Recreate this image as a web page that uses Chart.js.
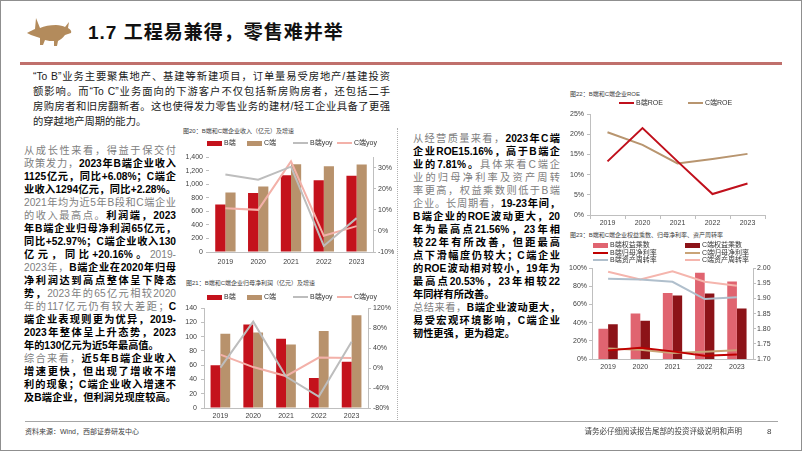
<!DOCTYPE html>
<html>
<head>
<meta charset="utf-8">
<title>工程易兼得，零售难并举</title>
<script src="https://cdn.jsdelivr.net/npm/chart.js@4.4.1/dist/chart.umd.min.js"></script>
<style>
  body { margin: 0; background: #fff; }
  #page { position: relative; width: 802px; height: 451px; overflow: hidden; background: #fff;
          font-family: "Liberation Sans", "Noto Sans CJK SC", sans-serif; }
  #frame { position: absolute; left: 0; top: 0; width: 802px; height: 451px; box-sizing: border-box;
           border: 1px solid #8f8f8f; pointer-events: none; }
  .abs { position: absolute; }
  canvas { position: absolute; }
  .title { left: 88px; top: 20px; font-size: 19px; font-weight: bold; letter-spacing: 1px; color: #111;
           line-height: 26px; white-space: nowrap; }
  .rule { left: 20px; top: 62px; width: 762px; height: 3px; background: #c0706c; }
  .para { left: 33px; top: 68.5px; width: 357px; font-size: 10.3px; line-height: 15px; color: #1a1a1a; }
  .colL { left: 24px; top: 143.5px; width: 152px; font-size: 10.2px; line-height: 13.05px; }
  .colM { left: 413px; top: 131.5px; width: 147px; font-size: 10.2px; line-height: 13px; }
  .ln { text-align: justify; text-align-last: justify; }
  .ln.end { text-align-last: left; }
  .g { color: #808080; }
  .b { color: #000; font-weight: bold; }
  .cap { font-size: 6px; color: #404040; white-space: nowrap; line-height: 8px; }
  .lg { font-size: 7px; color: #333; white-space: nowrap; line-height: 8px; }
  .sep { left: 397px; top: 128px; height: 292px; border-left: 1px dotted #b0b0b0; }
  .foot { left: 25px; top: 421px; width: 753px; height: 1px; background: #a6a6a6; }
  .ft { font-size: 7px; color: #404040; white-space: nowrap; line-height: 10px; }
</style>
</head>
<body>
<div id="page">
  <svg class="abs" style="left:0;top:0" width="80" height="60">
    <path fill="#b38b5c" d="M27,33 C30,31 33,30 35,29 L36,18 L40,28 C44,26 50,25 56,25 C60,25 63,26 65,27 L69,22 L68,28 C70,29 72,31 71,33 C69,34 67,34 65,35 C63,38 60,40 58,41 L57,46 L54,46 L54,41 C51,41 48,41 45,40 L43,45 L40,45 L40,38 C37,37 34,36 31,35 Z"/>
  </svg>
  <div class="abs title">1.7 工程易兼得，零售难并举</div>
  <div class="abs rule"></div>

  <div class="abs para">
    <div class="ln">“To B”业务主要聚焦地产、基建等新建项目，订单量易受房地产/基建投资</div>
    <div class="ln">额影响。而“To C”业务面向的下游客户不仅包括新房购房者，还包括二手</div>
    <div class="ln">房购房者和旧房翻新者。这也使得发力零售业务的建材/轻工企业具备了更强</div>
    <div class="ln end">的穿越地产周期的能力。</div>
  </div>

  <div class="abs colL">
    <div class="ln"><span class="g">从成长性来看，得益于保交付</span></div>
    <div class="ln"><span class="g">政策发力，</span><span class="b">2023年B端企业收入</span></div>
    <div class="ln"><span class="b">1125亿元，同比+6.08%；C端企</span></div>
    <div class="ln"><span class="b">业收入1294亿元，同比+2.28%。</span></div>
    <div class="ln"><span class="g">2021年均为近5年B段和C端企业</span></div>
    <div class="ln"><span class="g">的收入最高点。</span><span class="b">利润端，2023</span></div>
    <div class="ln"><span class="b">年B端企业归母净利润65亿元，</span></div>
    <div class="ln"><span class="b">同比+52.97%；C端企业收入130</span></div>
    <div class="ln"><span class="b">亿元，同比+20.16%。</span><span class="g">2019-</span></div>
    <div class="ln"><span class="g">2023年，</span><span class="b">B端企业在2020年归母</span></div>
    <div class="ln"><span class="b">净利润达到高点整体呈下降态</span></div>
    <div class="ln"><span class="b">势，</span><span class="g">2023年的65亿元相较2020</span></div>
    <div class="ln"><span class="g">年的117亿元仍有较大差距；</span><span class="b">C</span></div>
    <div class="ln"><span class="b">端企业表现则更为优异，2019-</span></div>
    <div class="ln"><span class="b">2023年整体呈上升态势，2023</span></div>
    <div class="ln end"><span class="b">年的130亿元为近5年最高值。</span></div>
    <div class="ln"><span class="g">综合来看，</span><span class="b">近5年B端企业收入</span></div>
    <div class="ln"><span class="b">增速更快，但出现了增收不增</span></div>
    <div class="ln"><span class="b">利的现象；C端企业收入增速不</span></div>
    <div class="ln"><span class="b">及B端企业，但利润兑现度较高。</span></div>
  </div>

  <div class="abs sep"></div>

  <div class="abs colM">
    <div class="ln"><span class="g">从经营质量来看，</span><span class="b">2023年C端</span></div>
    <div class="ln"><span class="b">企业ROE15.16%，高于B端企</span></div>
    <div class="ln"><span class="b">业的7.81%。</span><span class="g">具体来看C端企</span></div>
    <div class="ln"><span class="g">业的归母净利率及资产周转</span></div>
    <div class="ln"><span class="g">率更高，权益乘数则低于B端</span></div>
    <div class="ln"><span class="g">企业。长周期看，</span><span class="b">19-23年间，</span></div>
    <div class="ln"><span class="b">B端企业的ROE波动更大，20</span></div>
    <div class="ln"><span class="b">年为最高点21.56%，23年相</span></div>
    <div class="ln"><span class="b">较22年有所改善，但距最高</span></div>
    <div class="ln"><span class="b">点下滑幅度仍较大；C端企业</span></div>
    <div class="ln"><span class="b">的ROE波动相对较小，19年为</span></div>
    <div class="ln"><span class="b">最高点20.53%，23年相较22</span></div>
    <div class="ln end"><span class="b">年同样有所改善。</span></div>
    <div class="ln"><span class="g">总结来看，</span><span class="b">B端企业波动更大，</span></div>
    <div class="ln"><span class="b">易受宏观环境影响，C端企业</span></div>
    <div class="ln end"><span class="b">韧性更强，更为稳定。</span></div>
  </div>

  <div class="abs cap" style="left:183px;top:127px">图20：B端和C端企业收入（亿元）及增速</div>
  <div class="abs cap" style="left:186px;top:279px">图21：B端和C端企业归母净利润（亿元）及增速</div>
  <div class="abs cap" style="left:570px;top:90px">图22：B端和C端企业ROE</div>
  <div class="abs cap" style="left:570px;top:231px">图23：B端和C端企业权益乘数、归母净利率、资产周转率</div>

  <canvas id="c20" width="226" height="120" style="left:177px;top:150px"></canvas>
  <canvas id="c21" width="226" height="124" style="left:172px;top:300px"></canvas>
  <canvas id="c22" width="213" height="124" style="left:558px;top:107px"></canvas>
  <canvas id="c23" width="223" height="111" style="left:560px;top:262px"></canvas>

  <div class="abs foot"></div>
  <div class="abs ft" style="left:25px;top:427px">资料来源：Wind，西部证券研发中心</div>
  <div class="abs ft" style="right:60px;top:427px;font-size:7.5px">请务必仔细阅读报告尾部的投资评级说明和声明</div>
  <div class="abs ft" style="left:767px;top:427px;font-size:8px">8</div>
  <div id="frame"></div>
</div>

<script>
// 年份
const years = ['2019', '2020', '2021', '2022', '2023'];

// 图20 收入（亿元）及增速（%）
const revB = [700, 870, 1135, 1060, 1125];
const revC = [880, 968, 1297, 1265, 1294];
const revYoyB = [26.8, 24.3, 30.5, -7.1, 6.08];
const revYoyC = [10.8, 10.0, 33.0, -2.3, 2.28];

// 图21 归母净利润（亿元）及增速（%）
const profitB = [60, 117, 97, 42, 65];
const profitC = [104, 106, 89, 108, 130];
const profitYoyB = [1, 93, -17, -57, 52.97];
const profitYoyC = [27, 2, -16, 21, 20.16];

// 图22 ROE（%）
const roeB = [13.3, 21.56, 13.3, 5.2, 7.81];
const roeC = [20.53, 17.4, 12.8, 13.9, 15.16];

// 图23 权益乘数（右轴）、归母净利率 / 资产周转率（%，左轴）
const multB = [1.80, 1.85, 1.918, 1.985, 1.956];
const multC = [1.815, 1.826, 1.91, 1.916, 1.867];
const marginB = [9.5, 12.4, 8.4, 3.6, 5.0];
const marginC = [11.6, 10.2, 6.5, 8.0, 9.5];
const turnB = [88.4, 87.5, 85.0, 66.0, 68.0];
const turnC = [96.0, 87.6, 96.7, 85.0, 80.7];

const RED = '#c4121c', TAN = '#b8926c', GREY = '#bdbdbd', PINK = '#f3b1a9';
const AXIS = '#bfbfbf';
const tickFont = { family: 'Liberation Sans, Arial, sans-serif', size: 7 };
const tickColor = '#404040';

// legends drawn as html next to the canvases
function addLegend(items) {
  const page = document.getElementById('page');
  items.forEach(([x, y, kind, color, text]) => {
    const h = kind === 'box' ? 5 : 2;
    const sw = document.createElement('div');
    sw.className = 'abs';
    sw.style.cssText = `left:${x}px;top:${y - h / 2}px;width:15px;height:${h}px;background:${color}`;
    page.appendChild(sw);
    const t = document.createElement('div');
    t.className = 'abs lg';
    t.style.left = (x + 17) + 'px';
    t.style.top = (y - 4) + 'px';
    t.textContent = text;
    page.appendChild(t);
  });
}

addLegend([
  [207, 143, 'box', RED, 'B端'], [247, 143, 'box', TAN, 'C端'],
  [293, 143, 'line', GREY, 'B端yoy'], [337, 143, 'line', PINK, 'C端yoy']
]);
addLegend([
  [207, 297, 'box', RED, 'B端'], [247, 297, 'box', TAN, 'C端'],
  [293, 297, 'line', GREY, 'B端yoy'], [337, 297, 'line', PINK, 'C端yoy']
]);
addLegend([
  [619, 103, 'line', '#c0101c', 'B端ROE'], [688, 103, 'line', '#b8956f', 'C端ROE']
]);
addLegend([
  [593, 245, 'box', '#e06470', 'B端权益乘数'], [685, 245, 'box', '#8c1318', 'C端权益乘数'],
  [593, 252.7, 'line', '#c00000', 'B端归母净利率'], [685, 252.7, 'line', '#c9a477', 'C端归母净利率'],
  [593, 260, 'line', '#b0bfcc', 'B端资产周转率'], [685, 260, 'line', '#f5b5ad', 'C端资产周转率']
]);

function fixW(w) { return s => { s.width = w; }; }
function fixH(h) { return s => { s.height = h; }; }

function xAxis(h, pad, extra) {
  return Object.assign({
    grid: { display: false, drawTicks: false },
    border: { display: true, color: AXIS },
    ticks: { font: tickFont, color: tickColor, padding: pad, maxRotation: 0 },
    afterFit: fixH(h)
  }, extra || {});
}

function yAxis(pos, min, max, step, fmt, w, pad, showBorder) {
  return {
    position: pos, min: min, max: max,
    grid: { drawOnChartArea: false, tickLength: 3, color: AXIS },
    border: { display: showBorder, color: AXIS },
    ticks: { stepSize: step, font: tickFont, color: tickColor, padding: pad, callback: fmt },
    afterFit: fixW(w)
  };
}

const pct = v => v + '%';
const num = v => v.toLocaleString('en-US');

function baseOptions(scales, rightPad) {
  return {
    responsive: false, animation: false, devicePixelRatio: 1,
    layout: { padding: { top: 6, right: rightPad || 0, left: 0, bottom: 0 } },
    plugins: { legend: { display: false }, tooltip: { enabled: false } },
    scales: scales
  };
}

// 图20
new Chart(document.getElementById('c20'), {
  type: 'bar',
  data: {
    labels: years,
    datasets: [
      { type: 'line', label: 'B端yoy', data: revYoyB, yAxisID: 'y1', borderColor: GREY, borderWidth: 2, pointRadius: 0, tension: 0, order: 0 },
      { type: 'line', label: 'C端yoy', data: revYoyC, yAxisID: 'y1', borderColor: PINK, borderWidth: 2, pointRadius: 0, tension: 0, order: 0 },
      { label: 'B端', data: revB, backgroundColor: RED, yAxisID: 'y', order: 1, categoryPercentage: 0.62, barPercentage: 1 },
      { label: 'C端', data: revC, backgroundColor: TAN, yAxisID: 'y', order: 1, categoryPercentage: 0.62, barPercentage: 1 }
    ]
  },
  options: baseOptions({
    x: xAxis(18, 6),
    y: yAxis('left', 0, 1400, 200, num, 32, 3, false),
    y1: yAxis('right', -10, 35, 5, pct, 30, 2, true)
  })
});

// 图21
new Chart(document.getElementById('c21'), {
  type: 'bar',
  data: {
    labels: years,
    datasets: [
      { type: 'line', label: 'B端yoy', data: profitYoyB, yAxisID: 'y1', borderColor: GREY, borderWidth: 2, pointRadius: 0, tension: 0, order: 0 },
      { type: 'line', label: 'C端yoy', data: profitYoyC, yAxisID: 'y1', borderColor: PINK, borderWidth: 2, pointRadius: 0, tension: 0, order: 0 },
      { label: 'B端', data: profitB, backgroundColor: RED, yAxisID: 'y', order: 1, categoryPercentage: 0.6, barPercentage: 1 },
      { label: 'C端', data: profitC, backgroundColor: TAN, yAxisID: 'y', order: 1, categoryPercentage: 0.6, barPercentage: 1 }
    ]
  },
  options: baseOptions({
    x: xAxis(16, 4),
    y: yAxis('left', 0, 140, 20, num, 32, 4, true),
    y1: yAxis('right', -80, 120, 20, pct, 30, 2, true)
  })
});

// 图22
new Chart(document.getElementById('c22'), {
  type: 'line',
  data: {
    labels: years,
    datasets: [
      { label: 'B端ROE', data: roeB, borderColor: '#c0101c', borderWidth: 2, pointRadius: 0, tension: 0 },
      { label: 'C端ROE', data: roeC, borderColor: '#b8956f', borderWidth: 2, pointRadius: 0, tension: 0 }
    ]
  },
  options: baseOptions({
    x: xAxis(16, 0, {
      offset: true,
      grid: { display: true, drawOnChartArea: false, offset: true, tickLength: 4, color: AXIS }
    }),
    y: yAxis('left', 0, 25, 5, pct, 32, 3, true)
  }, 6)
});

// 图23
new Chart(document.getElementById('c23'), {
  type: 'bar',
  data: {
    labels: years,
    datasets: [
      { type: 'line', label: 'B端归母净利率', data: marginB, yAxisID: 'y', borderColor: '#c00000', borderWidth: 2, pointRadius: 0, tension: 0, order: 0 },
      { type: 'line', label: 'C端归母净利率', data: marginC, yAxisID: 'y', borderColor: '#c9a477', borderWidth: 2, pointRadius: 0, tension: 0, order: 0 },
      { type: 'line', label: 'B端资产周转率', data: turnB, yAxisID: 'y', borderColor: '#b0bfcc', borderWidth: 2, pointRadius: 0, tension: 0, order: 0 },
      { type: 'line', label: 'C端资产周转率', data: turnC, yAxisID: 'y', borderColor: '#f5b5ad', borderWidth: 2, pointRadius: 0, tension: 0, order: 0 },
      { label: 'B端权益乘数', data: multB, backgroundColor: '#e06470', yAxisID: 'y1', order: 1, categoryPercentage: 0.6, barPercentage: 1 },
      { label: 'C端权益乘数', data: multC, backgroundColor: '#8c1318', yAxisID: 'y1', order: 1, categoryPercentage: 0.6, barPercentage: 1 }
    ]
  },
  options: baseOptions({
    x: xAxis(14, 4),
    y: yAxis('left', 0, 100, 10, pct, 32, 2, true),
    y1: yAxis('right', 1.7, 2.0, 0.05, v => v.toFixed(2), 30, 1, true)
  })
});
</script>
</body>
</html>
